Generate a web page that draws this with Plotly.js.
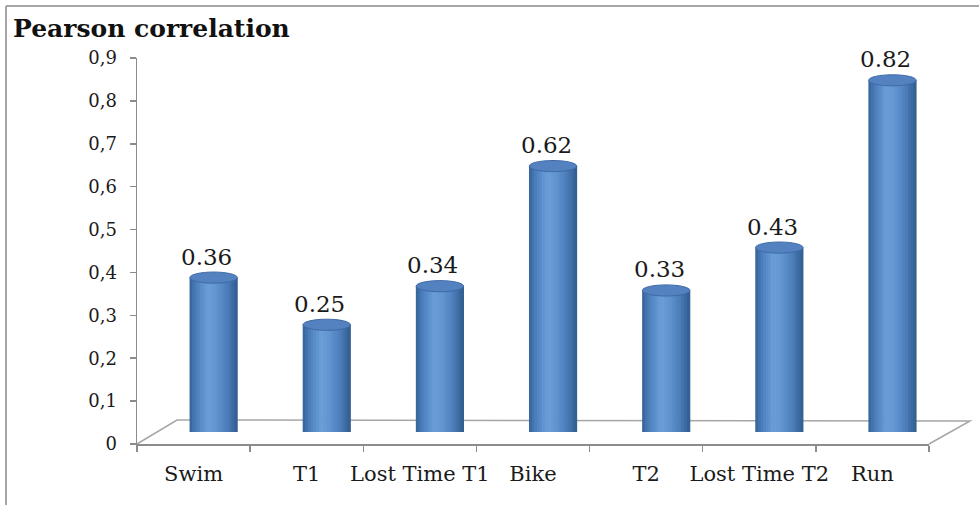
<!DOCTYPE html>
<html>
<head>
<meta charset="utf-8">
<script src="https://cdn.plot.ly/plotly-3.0.1.min.js"></script>
<style>
  html, body { margin: 0; padding: 0; background: #ffffff; }
  #chart { width: 979px; height: 507px; }
</style>
</head>
<body>
<div id="chart"></div>
<script>
// ---- data ----
var categories = ["Swim", "T1", "Lost Time T1", "Bike", "T2", "Lost Time T2", "Run"];
var correlations = [0.36, 0.25, 0.34, 0.62, 0.33, 0.43, 0.82];
var yTickValues = [0, 0.1, 0.2, 0.3, 0.4, 0.5, 0.6, 0.7, 0.8, 0.9];
var chartTitle = "Pearson correlation";

// ---- geometry (pixels) ----
var W = 979, H = 507;
var mL = 137, mR = 30, mT = 40, mB = 63;
var plotW = W - mL - mR;       // 812
var plotH = H - mT - mB;       // 404
var axisW = 792, axisH = 386;  // drawn axis extent
var depthX = 20, depthY = 12;  // cylinder depth shift

var barW = 0.42;               // cylinder width (category units)
var capB = 0.013;              // ellipse half-height (data units)
var nStrips = 18;

var stops = [
  [0.00, [52, 97, 150]],
  [0.12, [72, 123, 185]],
  [0.38, [106, 158, 216]],
  [0.55, [98, 150, 210]],
  [0.80, [74, 124, 184]],
  [1.00, [48, 92, 142]]
];
function colAt(t) {
  for (var k = 0; k < stops.length - 1; k++) {
    var a = stops[k], b = stops[k + 1];
    if (t >= a[0] && t <= b[0]) {
      var f = (t - a[0]) / (b[0] - a[0]);
      var c = a[1].map(function (v, j) { return Math.round(v + (b[1][j] - v) * f); });
      return "rgb(" + c.join(",") + ")";
    }
  }
  return "rgb(48,92,142)";
}

var traces = [];
for (var s = 0; s < nStrips; s++) {
  var tc = (s + 0.5) / nStrips;
  var u = 2 * tc - 1;
  var dip = capB * Math.sqrt(Math.max(0, 1 - u * u));
  var bases = correlations.map(function () { return -dip; });
  var lens = correlations.map(function (v) { return v + dip; });
  traces.push({
    type: "bar",
    x: categories,
    y: lens,
    base: bases,
    xaxis: "x2",
    yaxis: "y2",
    width: (barW / nStrips) * 1.25,
    offset: -barW / 2 + s * (barW / nStrips) - (barW / nStrips) * 0.1,
    marker: { color: colAt(tc), line: { width: 0 } },
    hoverinfo: "skip",
    showlegend: false
  });
}
// invisible trace to establish main axes
traces.push({
  type: "bar", x: categories, y: correlations.map(function () { return 0; }),
  xaxis: "x", yaxis: "y", marker: { color: "rgba(0,0,0,0)" },
  hoverinfo: "skip", showlegend: false
});

var shapes = [];
// frame
shapes.push({ type: "line", xref: "paper", yref: "paper",
  x0: (6 - mL) / plotW, x1: (W + 5 - mL) / plotW,
  y0: (H - mB - 6) / plotH, y1: (H - mB - 6) / plotH,
  line: { color: "#a6a6a6", width: 2 } });
shapes.push({ type: "line", xref: "paper", yref: "paper",
  x0: (6 - mL) / plotW, x1: (6 - mL) / plotW,
  y0: (H - mB - 6) / plotH, y1: (H - mB - 505) / plotH,
  line: { color: "#a6a6a6", width: 2 } });
// floor
var fx0 = 0, fx1 = axisW / plotW, dx = 2 * depthX / plotW, dy = 2 * depthY / plotH;
shapes.push({ type: "path", xref: "paper", yref: "paper", layer: "below",
  path: "M " + fx0 + " 0 L " + (fx0 + dx) + " " + dy + " L " + (fx1 + dx + 1 / plotW) + " " + (dy - 1 / plotH) + " L " + fx1 + " 0",
  line: { color: "#a6a6a6", width: 1.5 } });
// cylinder caps
correlations.forEach(function (v, i) {
  shapes.push({ type: "circle", xref: "x2", yref: "y2",
    x0: i - barW / 2, x1: i + barW / 2, y0: v - capB, y1: v + capB,
    fillcolor: "rgb(84,130,193)", line: { color: "rgb(62,106,165)", width: 1 } });
});

var annotations = correlations.map(function (v, i) {
  return {
    x: i, y: v, xref: "x2", yref: "y2",
    text: v.toFixed(2), showarrow: false,
    xshift: -7, yshift: 6, yanchor: "bottom",
    font: { family: "DejaVu Serif", size: 23, color: "#1a1a1a" }
  };
});

var layout = {
  width: W, height: H,
  margin: { l: mL, r: mR, t: mT, b: mB, pad: 0 },
  paper_bgcolor: "#ffffff", plot_bgcolor: "rgba(0,0,0,0)",
  separators: ",.",
  barmode: "overlay",
  title: { text: chartTitle, x: 13 / W, xref: "container", xanchor: "left",
    y: 1 - 28 / H, yref: "container", yanchor: "middle",
    font: { family: "DejaVu Serif", size: 25, color: "#111111", weight: "bold" } },
  xaxis: {
    domain: [0, axisW / plotW], range: [-0.5, 6.5], type: "category",
    showgrid: false, zeroline: false, showline: true, linecolor: "#8c8c8c", linewidth: 1.5,
    ticks: "outside", ticklen: 6, tickcolor: "#8c8c8c", tickwidth: 1.5, tickson: "boundaries",
    tickangle: 0, ticklabelstandoff: 10,
    tickfont: { family: "DejaVu Serif", size: 21, color: "#1a1a1a" },
    anchor: "y", fixedrange: true
  },
  yaxis: {
    domain: [0, axisH / plotH], range: [0, 0.9],
    tickvals: yTickValues,
    showgrid: false, zeroline: false, showline: true, linecolor: "#8c8c8c", linewidth: 1.5,
    ticks: "outside", ticklen: 6, tickcolor: "#8c8c8c", tickwidth: 1.5,
    ticklabelstandoff: 9,
    tickfont: { family: "DejaVu Serif", size: 18, color: "#1a1a1a" },
    anchor: "x", fixedrange: true
  },
  xaxis2: {
    domain: [depthX / plotW, (axisW + depthX) / plotW], range: [-0.5, 6.5], type: "category",
    visible: false, anchor: "y2", fixedrange: true
  },
  yaxis2: {
    domain: [depthY / plotH, (axisH + depthY) / plotH], range: [0, 0.9],
    visible: false, anchor: "x2", fixedrange: true
  },
  shapes: shapes,
  annotations: annotations
};

Plotly.newPlot("chart", traces, layout, { displayModeBar: false, staticPlot: true });
</script>
</body>
</html>
